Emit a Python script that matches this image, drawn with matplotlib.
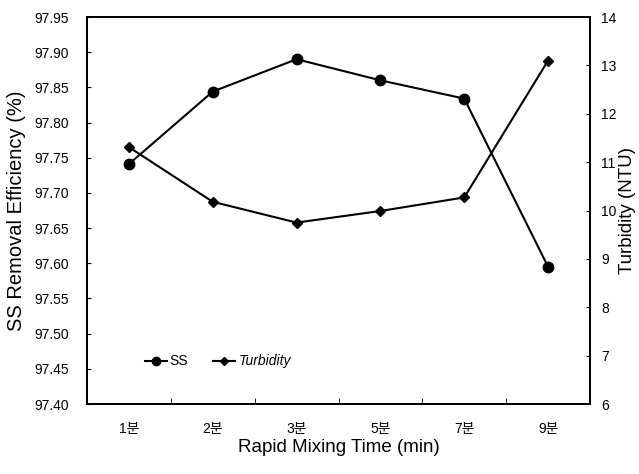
import matplotlib
matplotlib.use("Agg")
import matplotlib.pyplot as plt
import numpy as np
from matplotlib.ticker import FixedLocator

categories = ["1분", "2분", "3분", "5분", "7분", "9분"]
ss_values = [97.741, 97.844, 97.890, 97.860, 97.834, 97.595]
turbidity_values = [11.31, 10.18, 9.75, 9.99, 10.27, 13.10]
left_ticks = [97.40, 97.45, 97.50, 97.55, 97.60, 97.65, 97.70, 97.75, 97.80, 97.85, 97.90, 97.95]
right_ticks = [6, 7, 8, 9, 10, 11, 12, 13, 14]

plt.rcParams['font.family'] = ['Liberation Sans', 'Noto Sans CJK KR', 'DejaVu Sans']

fig = plt.figure(figsize=(6.39, 4.74), dpi=100)
ax = fig.add_axes([87/639, 1-404/474, 503/639, 387/474])
ax2 = ax.twinx()

x = np.arange(len(categories))
l1, = ax.plot(x, ss_values, color='black', lw=1.5, marker='o', ms=7.5, label='SS')
l2, = ax2.plot(x, turbidity_values, color='black', lw=1.5, marker='D', ms=5.5, label='Turbidity')

ax.set_xlim(-0.5, len(categories) - 0.5)
ax.set_ylim(97.40, 97.95)
ax2.set_ylim(6, 14)
ax.set_yticks(left_ticks)
ax.set_yticklabels([f"{v:.2f}" for v in left_ticks])
ax2.set_yticks(right_ticks)
ax.set_xticks(x)
ax.set_xticklabels(categories)
ax.xaxis.set_minor_locator(FixedLocator(np.arange(0.5, len(categories) - 0.5, 1)))
ax.tick_params(axis='x', which='major', length=0, pad=13, labelsize=10)
ax.tick_params(axis='x', which='minor', length=4, direction='in')
ax.tick_params(axis='y', which='major', length=3, direction='in', labelsize=10, pad=13)
ax2.tick_params(axis='y', which='major', length=3, direction='in', labelsize=10, pad=8)

for a in (ax, ax2):
    for s in a.spines.values():
        s.set_linewidth(1.3)

ax.set_xlabel("Rapid Mixing Time (min)", fontsize=13.5)
ax.set_ylabel("SS Removal Efficiency (%)", fontsize=14.5)
ax2.set_ylabel("Turbidity (NTU)", fontsize=13.5)
ax.xaxis.set_label_coords(0.5, -0.09)
ax.yaxis.set_label_coords(-0.122, 0.5)
ax2.yaxis.set_label_coords(1.058, 0.5)

leg = ax.legend([l1, l2], ['SS', 'Turbidity'], loc='center left',
                bbox_to_anchor=(0.09, 0.11), ncol=2, frameon=False,
                handlelength=1.6, columnspacing=1.8, handletextpad=0.2,
                fontsize=10, markerscale=0.8)
leg.get_texts()[1].set_style('italic')

fig.savefig("out.png", dpi=100)
